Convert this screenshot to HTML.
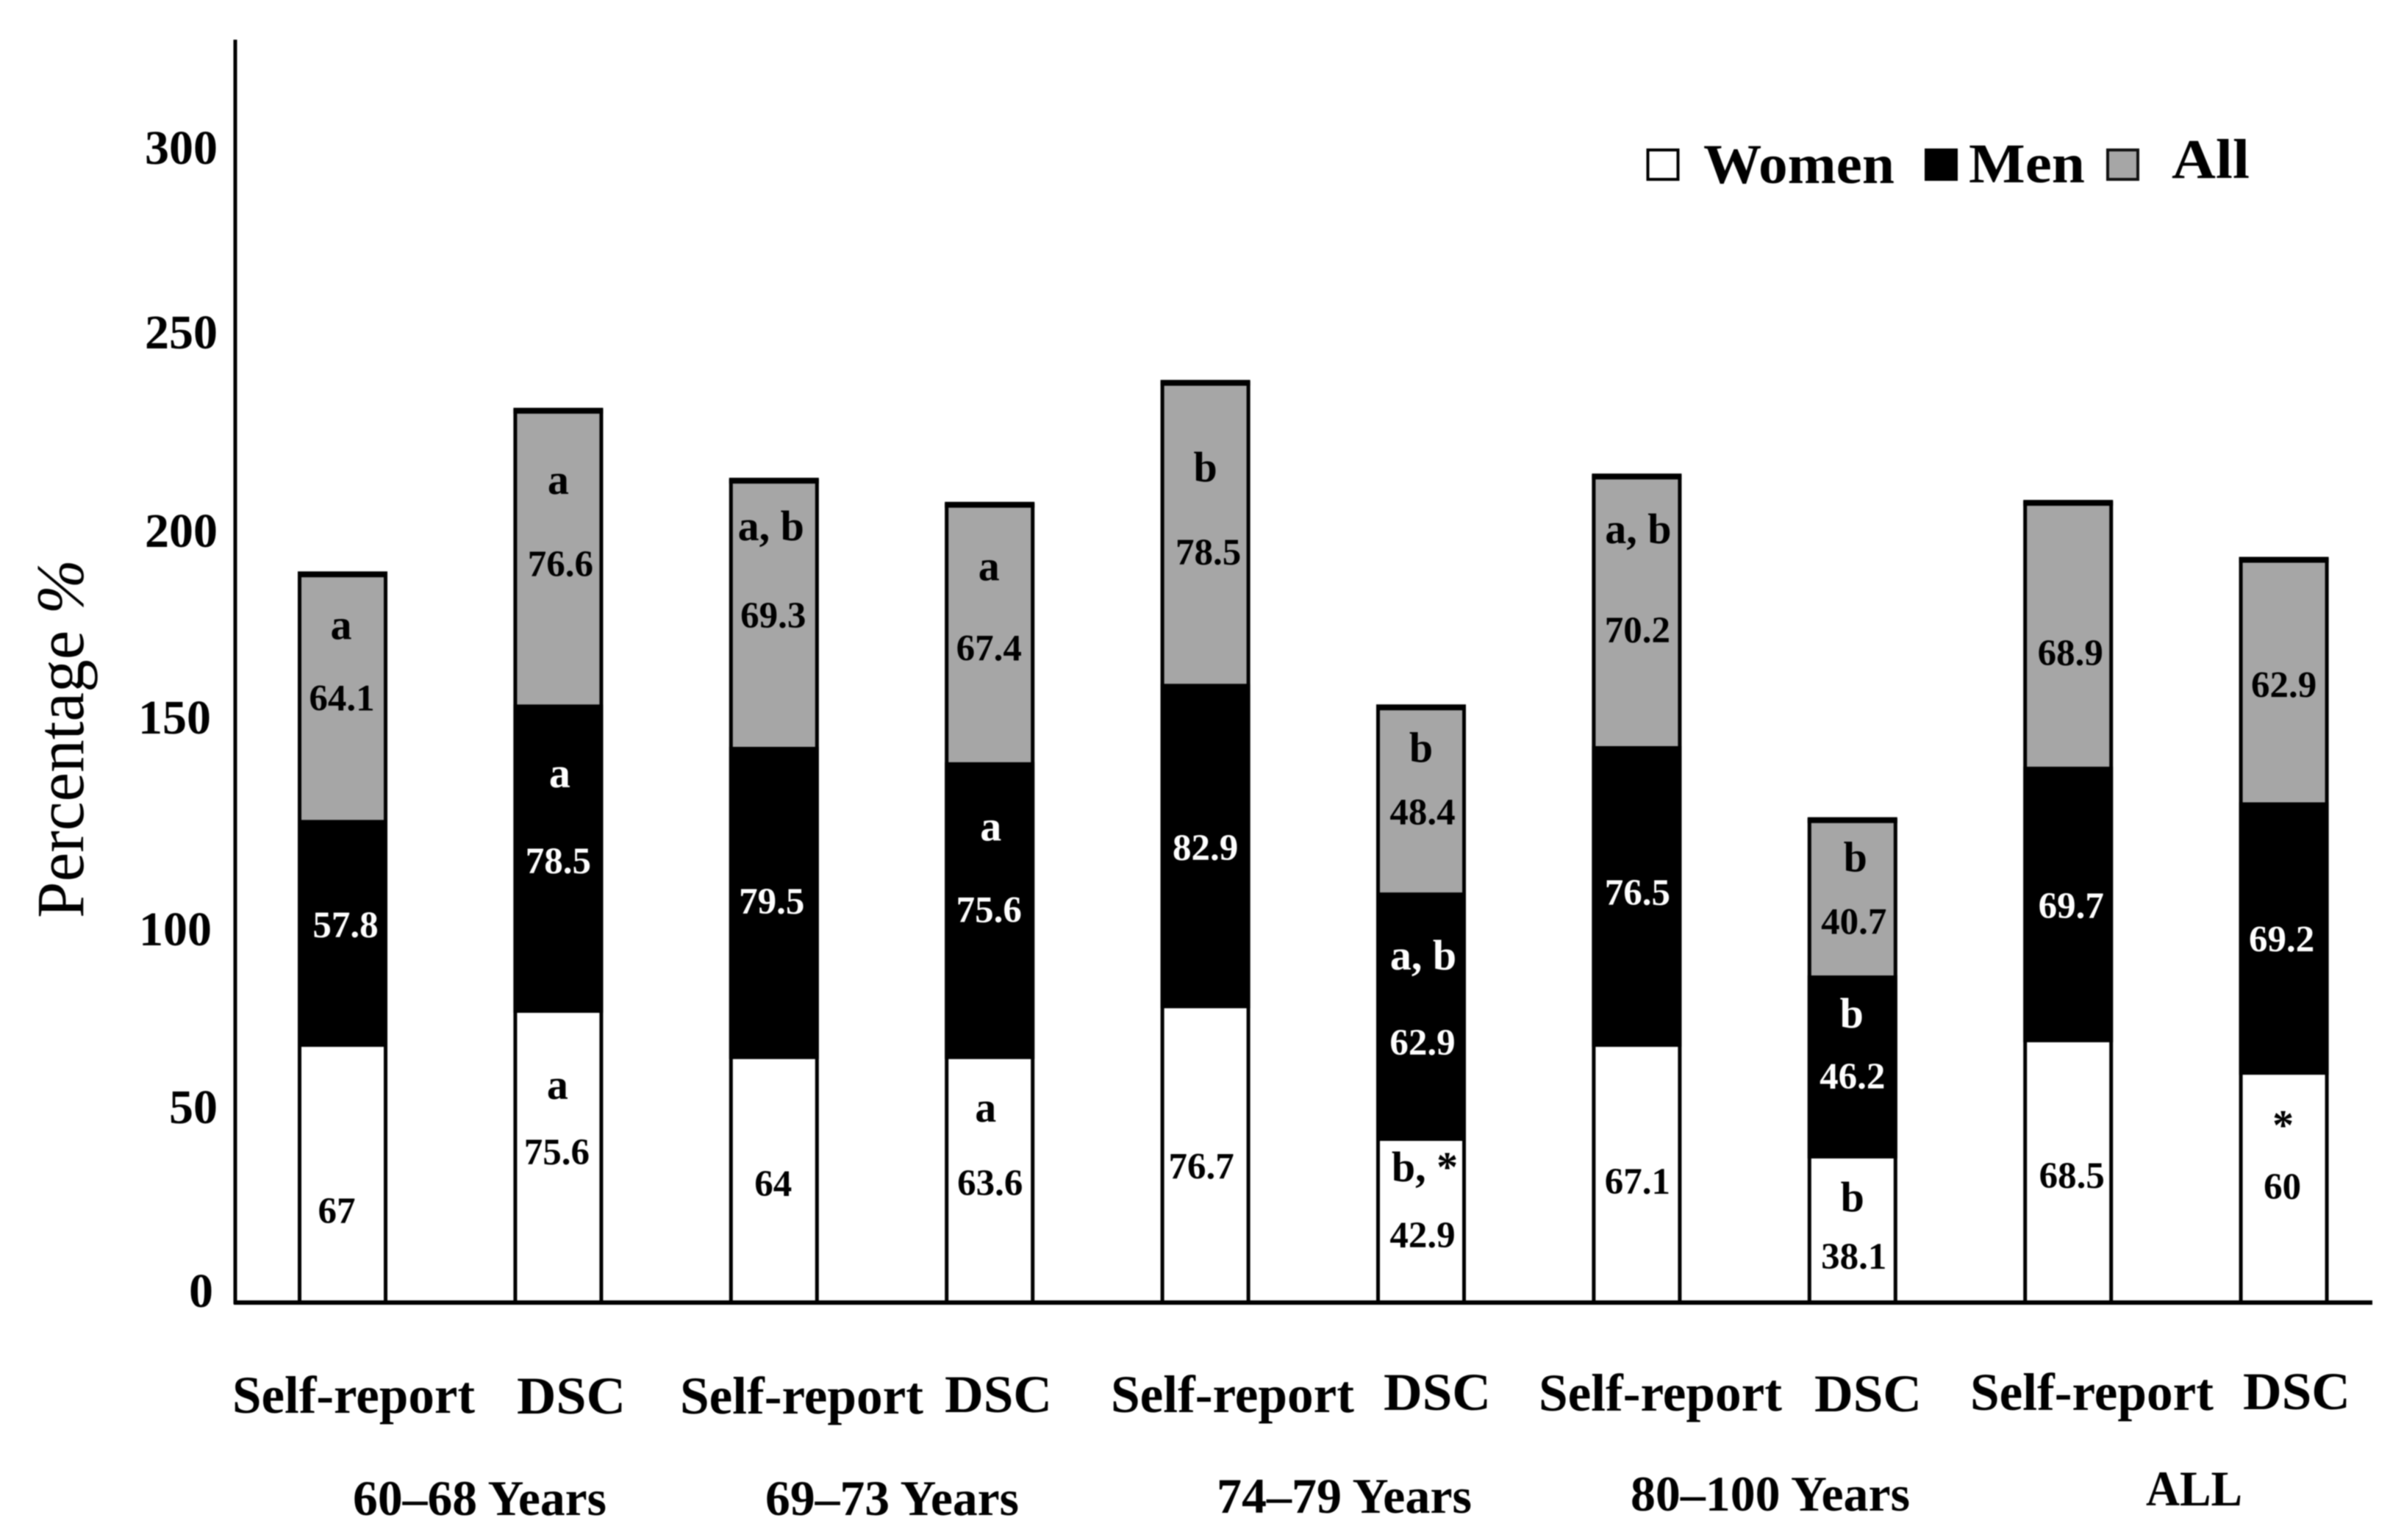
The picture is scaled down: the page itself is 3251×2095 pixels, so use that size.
<!DOCTYPE html>
<html lang="en">
<head>
<meta charset="utf-8">
<title>Stacked bars of percentage by age group</title>
<style>
html,body{margin:0;padding:0;background:#fff;width:3251px;height:2095px;overflow:hidden}
svg{display:block;filter:blur(0.9px)}
text{font-family:"Liberation Serif",serif;font-weight:700;fill:#000}
</style>
</head>
<body>
<svg id="chart" width="3251" height="2095" viewBox="0 0 3251 2095" xmlns="http://www.w3.org/2000/svg">
  <rect x="0" y="0" width="3251" height="2095" fill="#fff"/>
  <g id="bars"></g>
  <line x1="320" y1="54" x2="320" y2="1774" stroke="#000" stroke-width="5"/>
  <line x1="318" y1="1772" x2="3227" y2="1772" stroke="#000" stroke-width="6"/>
  <g id="ticks"></g>
  <g id="labels"></g>
  <g id="xlabels"></g>
  <text transform="translate(113,1249) rotate(-90)" font-size="92" textLength="488" lengthAdjust="spacingAndGlyphs" style="font-weight:400">Percentage <tspan font-style="italic">%</tspan></text>
  <g>
    <g>
      <rect x="2241.5" y="204" width="41" height="40" fill="#fff" stroke="#000" stroke-width="4"/>
      <text x="2317" y="249" font-size="76" textLength="260" lengthAdjust="spacingAndGlyphs">Women</text>
    </g>
    <g>
      <rect x="2620" y="204" width="41" height="40" fill="#000" stroke="#000" stroke-width="4"/>
      <text x="2678" y="248" font-size="76" textLength="158" lengthAdjust="spacingAndGlyphs">Men</text>
    </g>
    <g>
      <rect x="2867" y="204" width="41" height="40" fill="#a6a6a6" stroke="#111" stroke-width="4"/>
      <text x="2954" y="242" font-size="76" textLength="106" lengthAdjust="spacingAndGlyphs">All</text>
    </g>
  </g>
</svg>
<script>
const methods = ['Self-report','DSC','Self-report','DSC','Self-report','DSC','Self-report','DSC','Self-report','DSC'];
const ageGroups = ['60–68 Years','69–73 Years','74–79 Years','80–100 Years','ALL'];
const tickValues = [0,50,100,150,200,250,300];
const women = [66.9,75.8,63.7,63.7,77.0,42.3,66.9,37.7,68.1,59.6];
const men = [59.4,80.7,81.7,77.7,84.9,65.0,78.7,47.9,72.1,71.3];
const all = [64.6,77.2,70.0,67.7,79.1,48.8,70.9,41.0,69.4,63.8];
const printedWomen = ['67','75.6','64','63.6','76.7','42.9','67.1','38.1','68.5','60'];
const printedMen = ['57.8','78.5','79.5','75.6','82.9','62.9','76.5','46.2','69.7','69.2'];
const printedAll = ['64.1','76.6','69.3','67.4','78.5','48.4','70.2','40.7','68.9','62.9'];

const NS = 'http://www.w3.org/2000/svg';
const BASE_Y = 1772, PX_PER_UNIT = 5.2, FIRST_X = 466, STEP_X = 293.4, BAR_W = 122;
const yScale = function (v) { return BASE_Y - v * PX_PER_UNIT; };
const xScale = function (i) { return FIRST_X + STEP_X * i; };
const barsG = document.getElementById('bars');
const ticksG = document.getElementById('ticks');
const labelsG = document.getElementById('labels');
const xlabelsG = document.getElementById('xlabels');

function segBase(i, series) {
  if (series === 'women') return 0;
  if (series === 'men') return women[i];
  return women[i] + men[i];
}
function segValue(i, series) {
  if (series === 'women') return women[i];
  if (series === 'men') return men[i];
  return all[i];
}
function segTop(i, series) {
  return yScale(segBase(i, series) + segValue(i, series));
}

function drawSegment(i, series, fill) {
  const el = document.createElementNS(NS, 'rect');
  el.setAttribute('x', xScale(i) - BAR_W / 2);
  el.setAttribute('y', segTop(i, series));
  el.setAttribute('width', BAR_W);
  el.setAttribute('height', segValue(i, series) * PX_PER_UNIT);
  el.setAttribute('fill', fill);
  
  
  barsG.appendChild(el);
}
function drawOutline(i) {
  const top = segTop(i, 'all');
  const el = document.createElementNS(NS, 'rect');
  el.setAttribute('x', xScale(i) - BAR_W / 2 + 2.5);
  el.setAttribute('y', top + 2);
  el.setAttribute('width', BAR_W - 5);
  el.setAttribute('height', BASE_Y - top - 2);
  el.setAttribute('fill', 'none');
  el.setAttribute('stroke', '#000');
  el.setAttribute('stroke-width', 5);
  
  
  barsG.appendChild(el);
  const cap = document.createElementNS(NS, 'rect');
  cap.setAttribute('x', xScale(i) - BAR_W / 2);
  cap.setAttribute('y', top - 2);
  cap.setAttribute('width', BAR_W);
  cap.setAttribute('height', 8);
  cap.setAttribute('fill', '#000');
  
  
  barsG.appendChild(cap);
}
methods.forEach(function (m, i) {
  drawSegment(i, 'women', '#ffffff');
  drawSegment(i, 'men', '#000000');
  drawSegment(i, 'all', '#a6a6a6');
  drawOutline(i);
});

function tick(idx, right, dy) {
  const el = document.createElementNS(NS, 'text');
  el.setAttribute('x', right);
  el.setAttribute('y', yScale(tickValues[idx]) + dy);
  el.setAttribute('text-anchor', 'end');
  el.setAttribute('font-size', 66);
  
  
  el.textContent = tickValues[idx];
  ticksG.appendChild(el);
}
tick(0, 290, 6);
tick(1, 296, 16);
tick(2, 288, 34);
tick(3, 287, 6);
tick(4, 296, 12);
tick(5, 296, 2);
tick(6, 296, 11);

function putLabel(i, series, content, kind, dx, dy) {
  const el = document.createElementNS(NS, 'text');
  el.setAttribute('x', xScale(i) + dx);
  el.setAttribute('y', segTop(i, series) + dy);
  el.setAttribute('text-anchor', 'middle');
  el.setAttribute('font-size', kind === 'letter' ? 58 : 51);
  el.setAttribute('style', 'fill:' + (series === 'men' ? '#fff' : '#000'));
  
  
  el.textContent = content;
  labelsG.appendChild(el);
}
function val(i, series, dx, dy) {
  const src = series === 'women' ? printedWomen : (series === 'men' ? printedMen : printedAll);
  putLabel(i, series, src[i], 'value', dx, dy);
}
function sig(i, series, content, dx, dy) {
  putLabel(i, series, content, 'letter', dx, dy);
}

sig(0,'all','a',-2,90); val(0,'all',-1,187); val(0,'men',4,160); val(0,'women',-8,240);
sig(1,'all','a',0,115); val(1,'all',3,227); sig(1,'men','a',2,113); val(1,'men',0,230); sig(1,'women','a',-1,117); val(1,'women',-2,206);
sig(2,'all','a, b',-4,83); val(2,'all',-1,202); val(2,'men',-3,227); val(2,'women',-1,186);
sig(3,'all','a',-1,105); val(3,'all',-1,214); sig(3,'men','a',1.5,107); val(3,'men',-1,218); sig(3,'women','a',-5.5,85); val(3,'women',0.5,185);
sig(4,'all','b',0,136); val(4,'all',4,249); val(4,'men',0,240); val(4,'women',-5.5,232);
sig(5,'all','b',0,76); val(5,'all',2,161); sig(5,'men','a, b',3,105); val(5,'men',2,221); sig(5,'women','b, *',5,55); val(5,'women',2,145);
sig(6,'all','a, b',2,93); val(6,'all',1,228); val(6,'men',1,216); val(6,'women',1,200);
sig(7,'all','b',4,72); val(7,'all',2,157); sig(7,'men','b',-1,71); val(7,'men',0,154); sig(7,'women','b',0,72); val(7,'women',2,150);
val(8,'all',3,223); val(8,'men',4,206); val(8,'women',5,198);
val(9,'all',0,189); val(9,'men',-3,203); sig(9,'women','*',-1,88); val(9,'women',-2,169);

function axisText(content, name, left, width, baseline, size) {
  const el = document.createElementNS(NS, 'text');
  el.setAttribute('x', left);
  el.setAttribute('y', baseline);
  el.setAttribute('font-size', size);
  el.setAttribute('textLength', width);
  el.setAttribute('lengthAdjust', 'spacingAndGlyphs');
  
  
  el.textContent = content;
  xlabelsG.appendChild(el);
}
axisText(methods[0], 'x-label-method-1', 316, 330, 1922, 72);
axisText(methods[1], 'x-label-method-2', 703, 148, 1923, 72);
axisText(methods[2], 'x-label-method-3', 925, 331, 1923, 72);
axisText(methods[3], 'x-label-method-4', 1285, 146, 1921, 72);
axisText(methods[4], 'x-label-method-5', 1511, 331, 1921, 72);
axisText(methods[5], 'x-label-method-6', 1882, 146, 1918, 72);
axisText(methods[6], 'x-label-method-7', 2093, 331, 1919, 72);
axisText(methods[7], 'x-label-method-8', 2468, 146, 1920, 72);
axisText(methods[8], 'x-label-method-9', 2680, 331, 1918, 72);
axisText(methods[9], 'x-label-method-10', 3051, 146, 1917, 72);
axisText(ageGroups[0], 'x-label-group-1', 480, 345, 2061, 68);
axisText(ageGroups[1], 'x-label-group-2', 1041, 345, 2061, 68);
axisText(ageGroups[2], 'x-label-group-3', 1655, 347, 2058, 68);
axisText(ageGroups[3], 'x-label-group-4', 2218, 380, 2055, 68);
axisText(ageGroups[4], 'x-label-group-5', 2919, 131, 2048, 68);
</script>
</body>
</html>
